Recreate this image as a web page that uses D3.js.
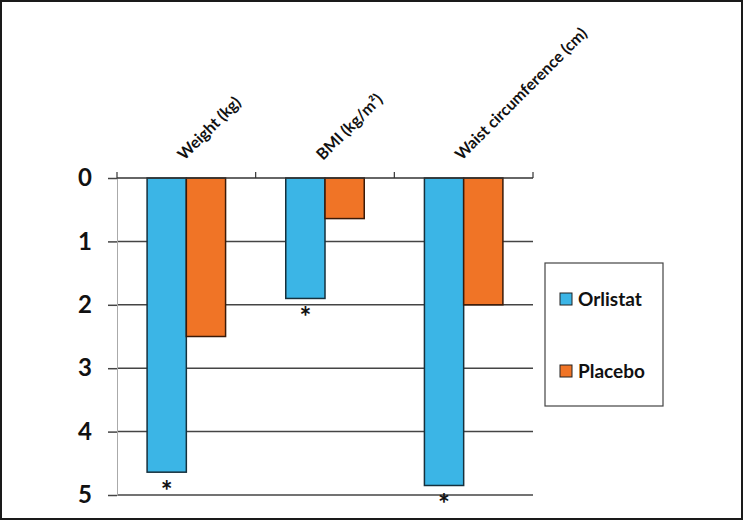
<!DOCTYPE html>
<html>
<head>
<meta charset="utf-8">
<script src="https://cdn.jsdelivr.net/npm/d3@7"></script>
<style>
  body { margin: 0; background: #fff; }
  text { font-family: Lato, "Open Sans", sans-serif; font-weight: bold; }
</style>
</head>
<body>
<div id="chart"></div>
<script>
// data
var categories = ["Weight (kg)", "BMI (kg/m²)", "Waist circumference (cm)"];
var series = ["Orlistat", "Placebo"];
var orlistat = [4.64, 1.9, 4.85];
var placebo = [2.5, 0.64, 2.0];
var starred = [true, true, true]; // * under Orlistat bars
var yTicks = [0, 1, 2, 3, 4, 5];
var colors = { Orlistat: "#3bb5e6", Placebo: "#f07426" };

var W = 743, H = 520;
var svg = d3.select("#chart").append("svg")
  .attr("width", W).attr("height", H);

// outer frame
svg.append("rect")
  .attr("x", 1).attr("y", 1).attr("width", W - 2).attr("height", H - 2)
  .attr("fill", "none").attr("stroke", "#1a1a1a").attr("stroke-width", 2);

var x = d3.scaleBand().domain(categories).range([117, 533]);
var x1 = d3.scaleBand().domain(series)
  .range([x.bandwidth() * 0.217, x.bandwidth() * 0.783]);
var y = d3.scaleLinear().domain([0, 5]).range([178, 495]);

// gridlines
svg.append("g").selectAll("line")
  .data(yTicks.slice(1))
  .enter().append("line")
  .attr("x1", 117).attr("x2", 533)
  .attr("y1", d => y(d)).attr("y2", d => y(d))
  .attr("stroke", "#444").attr("stroke-width", 1.5);

// y axis (values)
var yAxis = svg.append("g")
  .attr("transform", "translate(117,0)")
  .call(d3.axisLeft(y).tickValues(yTicks).tickSize(9).tickPadding(14).tickFormat(d3.format("d")));
yAxis.select(".domain").attr("stroke", "#aaa");
yAxis.selectAll(".tick line").attr("stroke", "#444").attr("stroke-width", 1.5);
yAxis.selectAll("text").attr("font-size", 24).attr("font-weight", 900).attr("fill", "#111")
  .attr("text-anchor", "middle").attr("dx", -9);

// bars
var rows = categories.map((c, i) => ({ cat: c, Orlistat: orlistat[i], Placebo: placebo[i], star: starred[i] }));
var groups = svg.selectAll(".group")
  .data(rows)
  .enter().append("g")
  .attr("class", "group")
  .attr("transform", d => "translate(" + x(d.cat) + ",0)");

groups.selectAll("rect")
  .data(d => series.map(s => ({ key: s, value: d[s] })))
  .enter().append("rect")
  .attr("x", d => x1(d.key))
  .attr("y", y(0))
  .attr("width", x1.bandwidth())
  .attr("height", d => y(d.value) - y(0))
  .attr("fill", d => colors[d.key])
  .attr("stroke", d => d.key === "Orlistat" ? "#16303c" : "#3a1a08")
  .attr("stroke-width", 1.5);

// asterisks
groups.filter(d => d.star).append("text")
  .attr("x", x1("Orlistat") + x1.bandwidth() / 2)
  .attr("y", d => y(d.Orlistat) + 29)
  .attr("text-anchor", "middle")
  .attr("font-size", 28)
  .attr("font-weight", "normal")
  .attr("fill", "#111")
  .text("*");

// top axis with ticks at category boundaries
var topAxis = svg.append("g");
topAxis.append("line")
  .attr("x1", 117).attr("x2", 533).attr("y1", y(0)).attr("y2", y(0))
  .attr("stroke", "#333").attr("stroke-width", 1.5);
topAxis.selectAll(".tk")
  .data(categories.map(c => x(c)).concat([x.range()[1]]))
  .enter().append("line")
  .attr("x1", d => d).attr("x2", d => d)
  .attr("y1", y(0)).attr("y2", y(0) - 6)
  .attr("stroke", "#333").attr("stroke-width", 1.2);

// category labels, rotated
svg.selectAll(".cat")
  .data(categories)
  .enter().append("text")
  .attr("class", "cat")
  .attr("transform", d => "translate(" + (x(d) + x.bandwidth() / 2 - 2) + "," + (y(0) - 17) + ") rotate(-45)")
  .attr("font-size", 16)
  .attr("fill", "#111")
  .text(d => d);

// legend
var legend = svg.append("g");
legend.append("rect")
  .attr("x", 545).attr("y", 263).attr("width", 118).attr("height", 143)
  .attr("fill", "#fff").attr("stroke", "#444").attr("stroke-width", 1.2);
var li = legend.selectAll(".li")
  .data(series)
  .enter().append("g")
  .attr("transform", (d, i) => "translate(560," + (293 + i * 72) + ")");
li.append("rect")
  .attr("width", 12).attr("height", 12)
  .attr("fill", d => colors[d]).attr("stroke", "#222").attr("stroke-width", 1);
li.append("text")
  .attr("x", 18).attr("y", 6).attr("dy", "0.35em")
  .attr("font-size", 19).attr("fill", "#111")
  .text(d => d);
</script>
</body>
</html>
